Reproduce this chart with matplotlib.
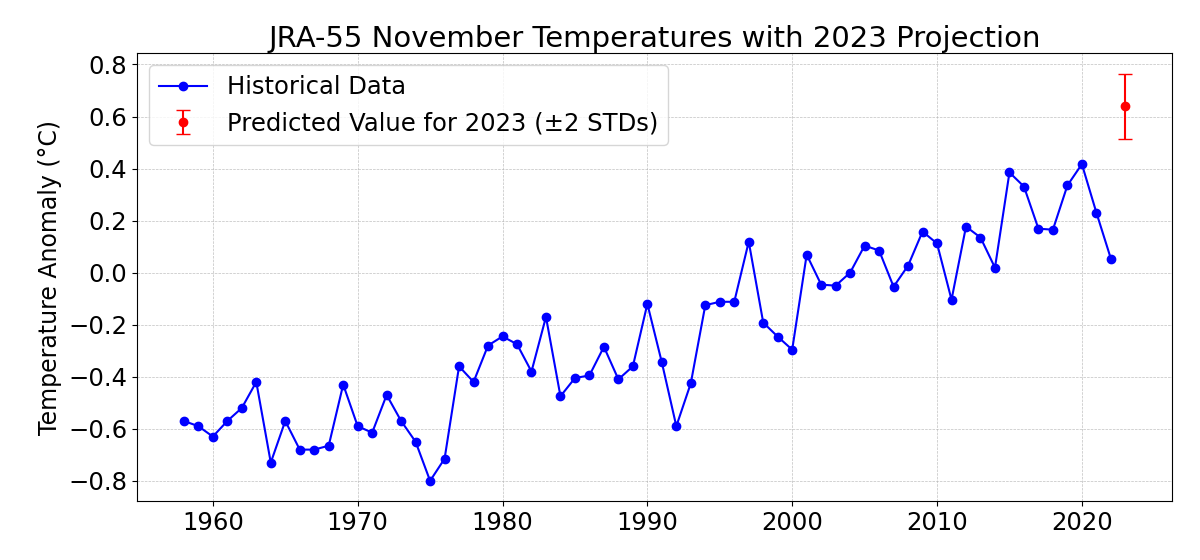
import matplotlib
matplotlib.use('Agg')
import matplotlib.pyplot as plt

# Anos e anomalias de novembro (JRA-55)
years = list(range(1958, 2023))
anomalies = [-0.57, -0.59, -0.63, -0.57, -0.52, -0.42, -0.73, -0.57, -0.68, -0.68,
             -0.665, -0.43, -0.59, -0.615, -0.47, -0.57, -0.65, -0.80, -0.715, -0.36,
             -0.42, -0.28, -0.245, -0.275, -0.38, -0.17, -0.475, -0.405, -0.395, -0.285,
             -0.41, -0.36, -0.12, -0.345, -0.59, -0.425, -0.125, -0.112, -0.112, 0.119,
             -0.192, -0.246, -0.296, 0.069, -0.046, -0.05, 0.0, 0.104, 0.085, -0.054,
             0.027, 0.158, 0.112, -0.104, 0.177, 0.135, 0.019, 0.385, 0.331, 0.169,
             0.165, 0.335, 0.417, 0.231, 0.054]

pred_year = 2023
pred_value = 0.64
pred_err = 0.125

fig, ax = plt.subplots(figsize=(12, 5.6), dpi=100)

ax.plot(years, anomalies, marker='o', color='blue', label='Historical Data')
ax.errorbar(pred_year, pred_value, yerr=pred_err, fmt='o', color='red',
            capsize=5, label='Predicted Value for 2023 (±2 STDs)')

ax.set_title('JRA-55 November Temperatures with 2023 Projection', fontsize=21, pad=3)
ax.set_ylabel('Temperature Anomaly (°C)', fontsize=17)
ax.tick_params(labelsize=17.5)
ax.set_yticks([-0.8, -0.6, -0.4, -0.2, 0.0, 0.2, 0.4, 0.6, 0.8])
ax.grid(True, linestyle='--', linewidth=0.5, alpha=0.8)
ax.legend(fontsize=17.5, loc='upper left')

plt.subplots_adjust(left=0.114, right=0.977, top=0.905, bottom=0.105)
plt.savefig('out.png')
